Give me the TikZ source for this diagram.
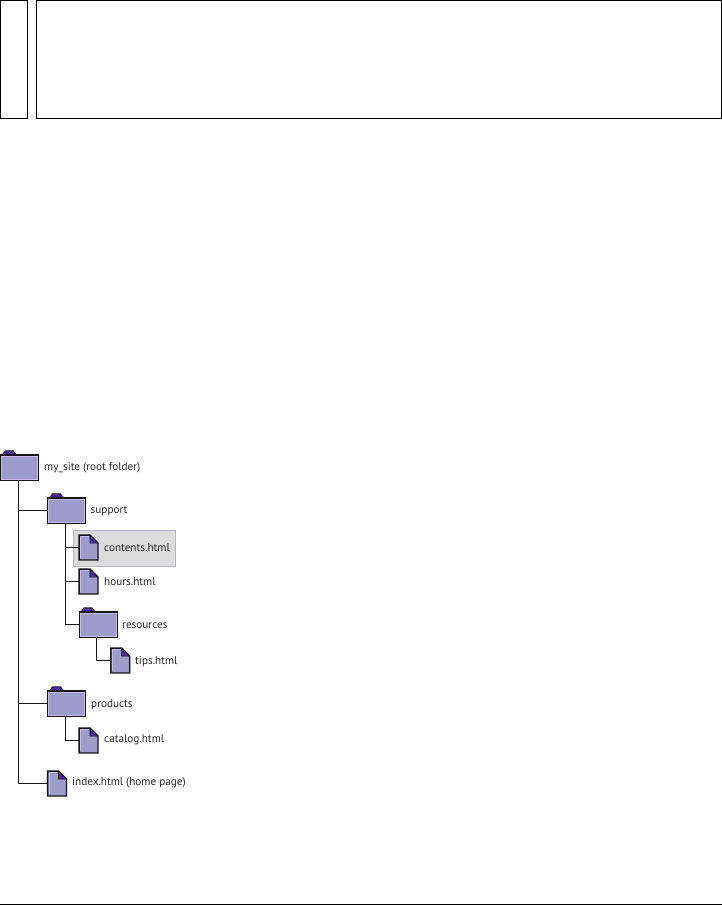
\documentclass[tikz,border=0pt]{standalone}
\usepackage{fontspec}
\setmainfont{PT Sans}
\usetikzlibrary{calc}
\definecolor{iconfill}{HTML}{9D9CCB}
\definecolor{iconedge}{HTML}{C9BCEB}
\definecolor{tabfill}{HTML}{4A2C9A}
\definecolor{linecol}{HTML}{141418}
\definecolor{hilite}{HTML}{DCDCDC}
\definecolor{hiliteedge}{HTML}{B4B4C4}
\tikzset{
    panel/.style={draw=black, line width=1pt, minimum height=117.5pt, inner sep=0pt},
    folderbox/.style={draw=linecol, line width=1.5pt, fill=iconfill, minimum width=37.5pt, minimum height=25pt, inner sep=0pt},
    docbox/.style={minimum width=18.5pt, minimum height=24.5pt, inner sep=0pt},
    branch/.style={draw=linecol, line width=1.2pt},
    filename/.style={anchor=west, inner sep=0pt, font=\fontsize{11.2}{13}\selectfont, text=black!85}
}
\begin{document}
\begin{tikzpicture}[x=1pt, y=-1pt]
    \useasboundingbox (0,0) rectangle (722,905);

    % Top panels
    \node[panel, minimum width=26.5pt] (sidepanel) at (13.75,59.25) {};
    \node[panel, minimum width=684.5pt] (mainpanel) at (378.75,59.25) {};

    % Highlight behind contents.html
    \node[draw=hiliteedge, line width=1pt, fill=hilite, minimum width=102pt, minimum height=36pt] (hilitebox) at (124,548) {};

    % Folders
    \node[folderbox] (root) at (19.25,467.5) {};
    \node[folderbox] (support) at (66.5,510.5) {};
    \node[folderbox] (resources) at (98,624.5) {};
    \node[folderbox] (products) at (66.5,703.5) {};

    % Files
    \node[docbox] (contents) at (88.5,547.5) {};
    \node[docbox] (hours) at (88.5,581.5) {};
    \node[docbox] (tips) at (120.25,660.5) {};
    \node[docbox] (catalog) at (88.5,740.5) {};
    \node[docbox] (index) at (57,783.5) {};

    % Tree lines
    \draw[branch] ([xshift=-0.75pt]root.south) |- (support.west);
    \draw[branch] ([xshift=-0.75pt]root.south) |- (products.west);
    \draw[branch] ([xshift=-0.75pt]root.south) |- (index.west);
    \draw[branch] ([xshift=-1pt]support.south) |- (contents.west);
    \draw[branch] ([xshift=-1pt]support.south) |- (hours.west);
    \draw[branch] ([xshift=-1pt]support.south) |- (resources.west);
    \draw[branch] ([xshift=-1.5pt]resources.south) |- (tips.west);
    \draw[branch] ([xshift=-1pt]products.south) |- (catalog.west);

    % Folder tabs and inner edge
    \foreach \f in {root, support, resources, products} {
        \draw[linecol, line width=0.8pt, fill=tabfill] ($(\f.north west)+(3,0)$) -- ++(2.5,-3.5) -- ++(8,0) -- ++(2.5,3.5) -- cycle;
        \draw[iconedge, line width=0.5pt] ($(\f.north west)+(1.6,1.6)$) rectangle ($(\f.south east)+(-1.6,-1.6)$);
    }

    % File icons
    \foreach \f in {contents, hours, tips, catalog, index} {
        \draw[linecol, line width=1.4pt, fill=iconfill, line join=miter] (\f.south west) -- (\f.north west) -- ($(\f.north east)+(-8,0)$) -- ($(\f.north east)+(0,8)$) -- (\f.south east) -- cycle;
        \draw[linecol, line width=0.6pt, fill=tabfill] ($(\f.north east)+(-8,0)$) -- ($(\f.north east)+(-8,8)$) -- ($(\f.north east)+(0,8)$) -- cycle;
        \draw[iconedge, line width=0.5pt] ($(\f.south west)+(1.5,-1.5)$) -- ($(\f.north west)+(1.5,1.5)$) -- ($(\f.north east)+(-9,1.5)$);
    }

    % Labels
    \node[filename] (rootlabel) at (44,468.2) {my\_site (root folder)};
    \node[filename] (supportlabel) at (90.5,511.6) {support};
    \node[filename] (contentslabel) at (104,547.8) {contents.html};
    \node[filename] (hourslabel) at (104,581.8) {hours.html};
    \node[filename] (resourceslabel) at (122,625.2) {resources};
    \node[filename] (tipslabel) at (135,661.2) {tips.html};
    \node[filename] (productslabel) at (91,704.2) {products};
    \node[filename] (cataloglabel) at (104,740.2) {catalog.html};
    \node[filename] (indexlabel) at (72,783.2) {index.html (home page)};

    % Bottom rule
    \coordinate (ruleleft) at (0,904.3);
    \coordinate (ruleright) at (722,904.3);
    \draw[black, line width=1pt] (ruleleft) -- (ruleright);
\end{tikzpicture}
\end{document}
